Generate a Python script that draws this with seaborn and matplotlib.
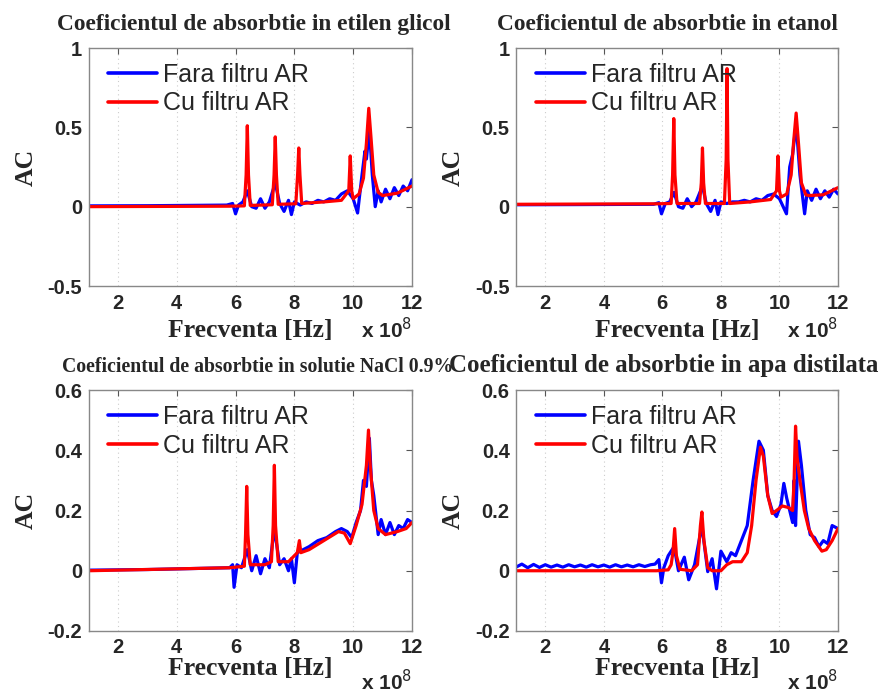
import numpy as np
import pandas as pd
import matplotlib
matplotlib.use("Agg")
import matplotlib.pyplot as plt
import seaborn as sns

# ---------------- data (frequency in units of 1e8 Hz) ----------------
titles = ["Coeficientul de absorbtie in etilen glicol",
          "Coeficientul de absorbtie in etanol",
          "Coeficientul de absorbtie in solutie NaCl 0.9%",
          "Coeficientul de absorbtie in apa distilata"]
series_names = ["Fara filtru AR", "Cu filtru AR"]
y_limits = [(-0.5, 1.0), (-0.5, 1.0), (-0.2, 0.6), (-0.2, 0.6)]
y_ticks = [[-0.5, 0, 0.5, 1], [-0.5, 0, 0.5, 1],
           [-0.2, 0, 0.2, 0.4, 0.6], [-0.2, 0, 0.2, 0.4, 0.6]]
y_ticklabels = [["-0.5", "0", "0.5", "1"], ["-0.5", "0", "0.5", "1"],
                ["-0.2", "0", "0.2", "0.4", "0.6"], ["-0.2", "0", "0.2", "0.4", "0.6"]]
x_ticks = [2, 4, 6, 8, 10, 12]

# Panel 1 - etilen glicol
p1_blue_x = [1.0, 3.0, 5.7, 5.9, 6.0, 6.1, 6.25, 6.4, 6.55, 6.7, 6.85, 7.0, 7.15, 7.35, 7.5, 7.65,
             7.8, 7.9, 8.0, 8.2, 8.4, 8.6, 8.8, 9.0, 9.2, 9.4, 9.6, 9.8, 10.0, 10.15, 10.3, 10.4,
             10.45, 10.55, 10.65, 10.75, 10.85, 10.95, 11.1, 11.25, 11.4, 11.55, 11.7, 11.85, 12.0]
p1_blue_y = [0.005, 0.006, 0.01, 0.02, -0.045, 0.01, 0.03, 0.10, 0.0, -0.01, 0.05, -0.01, 0.03, 0.15, 0.02, -0.03,
             0.04, -0.05, 0.03, 0.01, 0.03, 0.02, 0.04, 0.03, 0.05, 0.04, 0.08, 0.10, 0.05, -0.04, 0.20, 0.35,
             0.30, 0.49, 0.20, 0.0, 0.10, 0.03, 0.11, 0.05, 0.12, 0.07, 0.13, 0.10, 0.17]
p1_red_x = [1.0, 5.8, 6.3, 6.36, 6.4, 6.44, 6.5, 7.25, 7.31, 7.35, 7.39, 7.45, 8.05, 8.11, 8.15, 8.19,
            8.25, 9.0, 9.6, 9.85, 9.9, 9.95, 10.0, 10.2, 10.35, 10.45, 10.53, 10.6, 10.7, 10.85, 11.0,
            11.5, 12.0]
p1_red_y = [0.0, 0.003, 0.005, 0.2, 0.51, 0.2, 0.008, 0.012, 0.2, 0.44, 0.2, 0.015, 0.018, 0.2, 0.37, 0.2,
            0.02, 0.03, 0.04, 0.1, 0.32, 0.1, 0.05, 0.08, 0.18, 0.40, 0.62, 0.45, 0.2, 0.09, 0.07,
            0.085, 0.13]

# Panel 2 - etanol
p2_blue_x = [1.0, 3.0, 5.7, 5.88, 5.97, 6.1, 6.25, 6.4, 6.55, 6.7, 6.85, 7.0, 7.15, 7.37, 7.5, 7.65,
             7.8, 7.9, 8.0, 8.2, 8.4, 8.6, 8.8, 9.0, 9.2, 9.4, 9.6, 9.8, 10.0, 10.24, 10.35, 10.45,
             10.57, 10.7, 10.86, 10.95, 11.1, 11.25, 11.4, 11.55, 11.7, 11.85, 12.0]
p2_blue_y = [0.012, 0.013, 0.015, 0.025, -0.045, 0.02, 0.03, 0.09, 0.0, -0.01, 0.05, 0.0, 0.03, 0.13, 0.02, -0.03,
             0.04, -0.05, 0.03, 0.02, 0.03, 0.03, 0.04, 0.03, 0.05, 0.04, 0.07, 0.08, 0.05, -0.045, 0.25, 0.33,
             0.525, 0.2, -0.045, 0.10, 0.04, 0.11, 0.05, 0.10, 0.06, 0.11, 0.08]
p2_red_x = [1.0, 5.8, 6.3, 6.35, 6.39, 6.43, 6.5, 7.27, 7.33, 7.37, 7.41, 7.47, 8.12, 8.18, 8.21, 8.24,
            8.3, 9.0, 9.7, 9.9, 9.95, 10.0, 10.05, 10.25, 10.4, 10.48, 10.57, 10.65, 10.75, 10.9, 11.0,
            11.5, 12.0]
p2_red_y = [0.015, 0.018, 0.02, 0.2, 0.555, 0.2, 0.02, 0.02, 0.15, 0.37, 0.15, 0.02, 0.02, 0.3, 0.87, 0.3,
            0.02, 0.03, 0.045, 0.1, 0.32, 0.1, 0.06, 0.08, 0.2, 0.40, 0.59, 0.40, 0.15, 0.075, 0.07,
            0.075, 0.12]

# Panel 3 - solutie NaCl 0.9%
p3_blue_x = [1.0, 3.0, 5.8, 5.9, 5.95, 6.05, 6.2, 6.4, 6.55, 6.7, 6.85, 7.0, 7.15, 7.32, 7.5, 7.65,
             7.8, 7.9, 8.0, 8.1, 8.3, 8.5, 8.8, 9.1, 9.4, 9.6, 9.8, 9.95, 10.1, 10.25, 10.35, 10.45,
             10.55, 10.62, 10.7, 10.85, 10.95, 11.1, 11.25, 11.4, 11.55, 11.7, 11.85, 12.0]
p3_blue_y = [0.002, 0.004, 0.01, 0.02, -0.055, 0.02, 0.01, 0.07, 0.0, 0.05, -0.01, 0.04, 0.01, 0.14, 0.02, 0.04,
             0.0, 0.04, -0.04, 0.06, 0.07, 0.08, 0.10, 0.11, 0.13, 0.14, 0.13, 0.11, 0.16, 0.20, 0.30, 0.28,
             0.44, 0.30, 0.25, 0.12, 0.17, 0.12, 0.16, 0.12, 0.15, 0.14, 0.17, 0.16]
p3_red_x = [1.0, 5.8, 6.3, 6.34, 6.38, 6.42, 6.5, 7.0, 7.22, 7.28, 7.32, 7.36, 7.45, 7.8, 8.1, 8.17,
            8.22, 8.5, 9.0, 9.5, 9.7, 9.9, 10.1, 10.3, 10.45, 10.52, 10.58, 10.7, 10.85, 11.1, 11.5,
            11.8, 12.0]
p3_red_y = [0.0, 0.01, 0.015, 0.12, 0.28, 0.12, 0.02, 0.02, 0.03, 0.15, 0.35, 0.15, 0.03, 0.03, 0.06, 0.10,
            0.06, 0.07, 0.10, 0.13, 0.125, 0.09, 0.15, 0.22, 0.35, 0.467, 0.35, 0.20, 0.14, 0.12, 0.13,
            0.14, 0.16]

# Panel 4 - apa distilata
p4_blue_x = [1.0, 1.2, 1.4, 1.6, 1.8, 2.0, 2.2, 2.4, 2.6, 2.8, 3.0, 3.2, 3.4, 3.6, 3.8, 4.0, 4.2,
             4.4, 4.6, 4.8, 5.0, 5.2, 5.4, 5.6, 5.75, 5.88, 5.97, 6.05, 6.2, 6.4, 6.55, 6.75, 6.9,
             7.1, 7.35, 7.55, 7.7, 7.85, 8.0, 8.2, 8.35, 8.5, 8.7, 8.9, 9.1, 9.3, 9.45, 9.6,
             9.75, 9.9, 10.05, 10.15, 10.25, 10.35, 10.45, 10.5, 10.55, 10.65, 10.75, 10.9, 11.05,
             11.2, 11.35, 11.5, 11.65, 11.8, 12.0]
p4_blue_y = [0.012, 0.022, 0.010, 0.021, 0.011, 0.020, 0.012, 0.019, 0.012, 0.020, 0.013, 0.019, 0.012,
             0.020, 0.013, 0.019, 0.012, 0.020, 0.013, 0.019, 0.013, 0.020, 0.014, 0.020, 0.022, 0.037,
             -0.04, 0.01, 0.05, 0.08, 0.0, 0.045, -0.03, 0.02, 0.15, -0.003, 0.04, -0.06, 0.065, 0.03,
             0.06, 0.05, 0.10, 0.15, 0.30, 0.43, 0.40, 0.25, 0.20, 0.18, 0.22, 0.29, 0.24, 0.20, 0.16,
             0.30, 0.15, 0.43, 0.35, 0.20, 0.12, 0.11, 0.08, 0.10, 0.09, 0.15, 0.14]
p4_red_x = [1.0, 5.8, 6.2, 6.3, 6.36, 6.42, 6.48, 6.6, 7.0, 7.2, 7.3, 7.35, 7.42, 7.55, 7.7, 8.0,
            8.2, 8.4, 8.7, 8.9, 9.05, 9.2, 9.35, 9.45, 9.6, 9.75, 9.9, 10.1, 10.3, 10.45, 10.5,
            10.55, 10.6, 10.7, 10.85, 11.0, 11.2, 11.45, 11.6, 11.8, 12.0]
p4_red_y = [0.0, 0.0, 0.003, 0.02, 0.06, 0.14, 0.05, 0.005, 0.0, 0.02, 0.15, 0.195, 0.10, 0.01, 0.0, 0.0,
            0.02, 0.03, 0.03, 0.06, 0.15, 0.30, 0.41, 0.38, 0.25, 0.19, 0.20, 0.215, 0.21, 0.20, 0.30,
            0.48, 0.38, 0.30, 0.20, 0.14, 0.10, 0.065, 0.07, 0.10, 0.14]

panels = [(p1_blue_x, p1_blue_y, p1_red_x, p1_red_y),
          (p2_blue_x, p2_blue_y, p2_red_x, p2_red_y),
          (p3_blue_x, p3_blue_y, p3_red_x, p3_red_y),
          (p4_blue_x, p4_blue_y, p4_red_x, p4_red_y)]

# ---------------- styling ----------------
sns.set_style("white")
plt.rcParams['font.family'] = ['Liberation Sans', 'DejaVu Sans']

fig = plt.figure(figsize=(8.8, 6.96), dpi=100)
W, H = 880.0, 696.0
boxes = [(88.5, 48, 412, 286), (516, 48, 838, 286),
         (88.5, 390, 412, 631), (516, 390, 838, 631)]
title_sizes = [16.8, 16.8, 14.2, 17.9]
title_centers = [253.5, 667.5, 257.5, 663.5]
xlabel_offsets = [44, 44, 38, 38]
x10_offsets = [44, 44, 51, 51]
palette = {"Fara filtru AR": "#0000ff", "Cu filtru AR": "#ff0000"}
serif = ['Liberation Serif', 'DejaVu Serif']

for i, (bx, by, rx, ry) in enumerate(panels):
    l, t, r, b = boxes[i]
    hpx = b - t
    wpx = r - l
    ax = fig.add_axes([l / W, 1 - b / H, wpx / W, hpx / H])
    df = pd.concat([
        pd.DataFrame({"f": bx, "AC": by, "serie": series_names[0]}),
        pd.DataFrame({"f": rx, "AC": ry, "serie": series_names[1]}),
    ], ignore_index=True)
    sns.lineplot(data=df, x="f", y="AC", hue="serie", palette=palette,
                 hue_order=series_names, linewidth=2.3, ax=ax, sort=False,
                 estimator=None)
    ax.set_xlim(1, 12)
    ax.set_ylim(*y_limits[i])
    ax.set_xticks(x_ticks)
    ax.set_xticklabels([str(v) for v in x_ticks])
    ax.set_yticks(y_ticks[i])
    ax.set_yticklabels(y_ticklabels[i])
    ax.tick_params(direction="in", length=4, width=0.8, color="#555555",
                   top=True, right=True, labelsize=14.5)
    ax.tick_params(axis="x", pad=6 if i < 2 else 5)
    ax.tick_params(axis="y", pad=4.5)
    for lab in ax.get_xticklabels() + ax.get_yticklabels():
        lab.set_fontweight("bold")
    for sp in ax.spines.values():
        sp.set_color("#888888")
        sp.set_linewidth(1.0)
    ax.grid(axis="x", linestyle=(0, (1, 3)), color="#cccccc", linewidth=0.8)
    # x label: centred vertically at the given pixel offset below the axes
    ax.set_xlabel("")
    ax.text(0.5, -xlabel_offsets[i] / hpx, "Frecventa [Hz]", transform=ax.transAxes,
            ha="center", va="center", family=serif, fontweight="bold", fontsize=18.5)
    ax.set_ylabel("AC", family=serif, fontweight="bold", fontsize=18.5)
    ax.yaxis.set_label_coords(-51.0 / wpx, 0.5)
    ax.set_title(titles[i], family=serif, fontweight="bold", fontsize=title_sizes[i], pad=13)
    ax.title.set_x((title_centers[i] - l) / wpx)
    ax.text(1.0, -x10_offsets[i] / hpx, r"x 10$^{8}$", transform=ax.transAxes, ha="right",
            va="center", fontsize=15, fontweight="bold")
    leg = ax.legend(loc="upper left", frameon=False, fontsize=18, handlelength=1.96,
                    borderaxespad=0.0, borderpad=0.0, labelspacing=0.2, handletextpad=0.25,
                    bbox_to_anchor=(19.5 / wpx, 1 - 14.5 / hpx))
    for ln in leg.get_lines():
        ln.set_linewidth(2.6)

fig.savefig("out.png", dpi=100)
